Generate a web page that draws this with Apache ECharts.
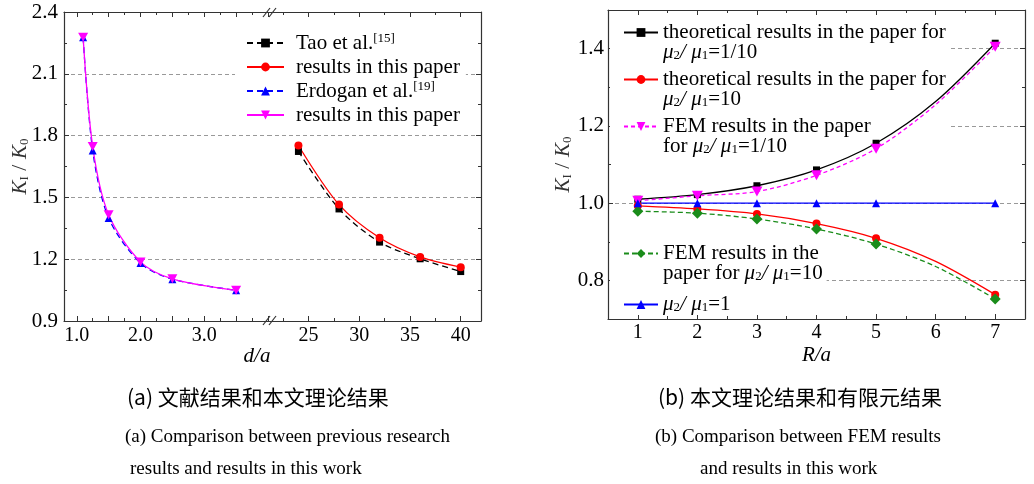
<!DOCTYPE html>
<html>
<head>
<meta charset="utf-8">
<script src="https://cdn.jsdelivr.net/npm/echarts@6/dist/echarts.min.js"></script>
<style>html,body{margin:0;padding:0;background:#fff}#main{width:1034px;height:484px}</style>
</head>
<body>
<div id="main"></div>
<script>
let myChart = echarts.init(document.getElementById('main'));

// (a) 左段 d/a
let dShort = [1.1, 1.25, 1.5, 2.0, 2.5, 3.5];
let erdogan = [2.277, 1.728, 1.400, 1.181, 1.103, 1.049];
let oursShort = [2.277, 1.747, 1.416, 1.187, 1.105, 1.049];
// (a) 右段 d/a
let dLong = [24, 28, 32, 36, 40];
let tao = [1.723, 1.444, 1.283, 1.202, 1.140];
let oursLong = [1.752, 1.465, 1.304, 1.211, 1.161];
// (b) R/a
let rA = [1, 2, 3, 4, 5, 6, 7];
let theory01 = [1.010, 1.022, 1.045, 1.086, 1.155, 1.263, 1.414];
let theory10 = [0.993, 0.985, 0.972, 0.947, 0.909, 0.849, 0.763];
let fem01 = [1.006, 1.019, 1.030, 1.072, 1.141, 1.255, 1.405];
let fem10 = [0.979, 0.974, 0.959, 0.933, 0.894, 0.836, 0.752];
let ratio1 = [1, 1, 1, 1, 1, 1, 1];
let noMarkAt = 6; // 1/10 两条曲线在 R/a=6 处无标记

let serif = '"Liberation Serif", "Times New Roman", serif';
let cjk = '"Noto Sans CJK SC", sans-serif';
let axisColor = '#333';
let downTri = 'path://M0,0L10,0L5,9Z';

let mu = '{i|μ}{s|2}{i|/ μ}{s|1}';
let legendText = {
    tao: 'Tao et al.{sup|[15]}',
    oursLong: 'results in this paper',
    erdogan: 'Erdogan et al.{sup|[19]}',
    oursShort: 'results in this paper',
    theory01: '\ntheoretical results in the paper for\n' + mu + '=1/10',
    theory10: '\ntheoretical results in the paper for\n' + mu + '=10',
    fem01: '\nFEM results in the paper\nfor ' + mu + '=1/10',
    fem10: '\nFEM results in the\npaper for ' + mu + '=10',
    ratio1: mu + '=1'
};

let rich = {
    i: {fontFamily: serif, fontSize: 21, fontStyle: 'italic', lineHeight: 20},
    s: {fontFamily: serif, fontSize: 13, lineHeight: 13, verticalAlign: 'bottom'},
    sup: {fontFamily: serif, fontSize: 13, lineHeight: 13, verticalAlign: 'top'},
    n: {fontFamily: serif, fontSize: 22}
};

function pairs(xs, ys) {
    return xs.map((x, i) => x === noMarkAt ? {value: [x, ys[i]], symbol: 'none'} : [x, ys[i]]);
}

function frame(gridIndex, position, min, max, extra) {
    return Object.assign({
        type: 'value', gridIndex: gridIndex, position: position, min: min, max: max,
        axisLine: {show: true, onZero: false, lineStyle: {color: axisColor, width: 1.2}},
        axisTick: {show: true, inside: true, length: 5, lineStyle: {color: axisColor}},
        minorTick: {show: true, splitNumber: 2, length: 3, lineStyle: {color: axisColor}},
        axisLabel: {show: false},
        splitLine: {show: false},
        nameMoveOverlap: false
    }, extra || {});
}

let labelStyle = {show: true, fontFamily: serif, fontSize: 20, color: '#000'};
let gridLine = {show: true, showMinLine: false, showMaxLine: false, lineStyle: {color: '#999', type: [4, 3], width: 1}};
let kName = '{i|K}{s|I}{n| / }{i|K}{s|0}';

let isInt = v => Math.abs(v - Math.round(v)) < 1e-6;

function line(name, xs, ys, xi, yi, color, symbol, size, dashed, extra) {
    return Object.assign({
        name: name, type: 'line', xAxisIndex: xi, yAxisIndex: yi,
        data: pairs(xs, ys), smooth: 0.3, symbol: symbol, symbolSize: size,
        itemStyle: {color: color},
        lineStyle: {color: color, width: 1.3, type: dashed ? [6, 4] : 'solid'},
        z: 2
    }, extra || {});
}

function caption(x, y, text, font, size) {
    return {type: 'text', x: x, y: y, style: {text: text, fontFamily: font, fontSize: size, fill: '#000', verticalAlign: 'middle'}};
}

let option = {
    animation: false,
    textStyle: {fontFamily: serif},
    grid: [
        {left: 64, top: 12, width: 204, height: 309, outerBoundsMode: 'none'},
        {left: 268, top: 12, width: 213, height: 309, outerBoundsMode: 'none'},
        {left: 608, top: 10, width: 417, height: 309, outerBoundsMode: 'none'}
    ],
    xAxis: [
        frame(0, 'bottom', 0.8, 4.0, {axisLabel: Object.assign({}, labelStyle, {margin: 5,
            formatter: v => (isInt(v) && v > 0.9 && v < 3.9) ? v.toFixed(1) : ''})}),
        frame(1, 'bottom', 21, 42, {axisLabel: Object.assign({}, labelStyle, {margin: 5,
            formatter: v => (v % 5 === 0 && v < 41) ? String(v) : ''})}),
        frame(0, 'top', 0.8, 4.0, {z: 3}),
        frame(1, 'top', 21, 42, {z: 3}),
        frame(2, 'bottom', 0.5, 7.5, {
            axisLabel: Object.assign({}, labelStyle, {margin: 4, formatter: v => isInt(v) ? String(v) : ''}),
            name: 'R/a', nameLocation: 'middle', nameGap: 26,
            nameTextStyle: {fontFamily: serif, fontSize: 21, fontStyle: 'italic', color: '#000'}
        }),
        frame(2, 'top', 0.5, 7.5, {z: 3})
    ],
    yAxis: [
        frame(0, 'left', 0.9, 2.4, {interval: 0.3,
            axisLabel: Object.assign({}, labelStyle, {fontSize: 21, margin: 6, formatter: v => v.toFixed(1)}),
            splitLine: gridLine,
            name: kName, nameLocation: 'middle', nameRotate: 90, nameGap: 33,
            nameTextStyle: {rich: rich}
        }),
        frame(1, 'right', 0.9, 2.4, {interval: 0.3, splitLine: gridLine}),
        frame(2, 'left', 0.7, 1.5, {
            axisLabel: Object.assign({}, labelStyle, {fontSize: 21, margin: 4,
                formatter: v => (Math.round(v * 10) % 2 === 0 && v > 0.75 && v < 1.45) ? v.toFixed(1) : ''}),
            splitLine: gridLine,
            name: kName, nameLocation: 'middle', nameRotate: 90, nameGap: 34,
            nameTextStyle: {rich: rich}
        }),
        frame(2, 'right', 0.7, 1.5, {})
    ],
    legend: [
        {
            orient: 'vertical', left: 235, top: 30, z: 1,
            padding: [2, 6, 2, 11], itemGap: 2, itemWidth: 37, itemHeight: 11,
            backgroundColor: '#fff',
            data: ['tao', 'oursLong', 'erdogan', 'oursShort'],
            formatter: n => legendText[n],
            textStyle: {fontFamily: serif, fontSize: 21, color: '#000', lineHeight: 22, padding: [0, 0, 0, 7], rich: rich}
        },
        {
            orient: 'vertical', left: 610, top: 2, z: 1,
            padding: [0, 4, 0, 13], itemGap: -14, itemWidth: 34, itemHeight: 11,
            backgroundColor: '#fff',
            data: ['theory01', 'theory10', 'fem01'],
            formatter: n => legendText[n],
            textStyle: {fontFamily: serif, fontSize: 21, color: '#000', lineHeight: 20, rich: rich}
        },
        {
            orient: 'vertical', left: 610, top: 223, z: 1,
            padding: [0, 4, 0, 13], itemGap: 10, itemWidth: 34, itemHeight: 11,
            backgroundColor: '#fff',
            data: ['fem10', 'ratio1'],
            formatter: n => legendText[n],
            textStyle: {fontFamily: serif, fontSize: 21, color: '#000', lineHeight: 20, rich: rich}
        }
    ],
    graphic: [
        // 断轴符号
        {type: 'line', shape: {x1: 263, y1: 17, x2: 270, y2: 8}, style: {stroke: axisColor, lineWidth: 1.2}, z: 10},
        {type: 'line', shape: {x1: 269, y1: 17, x2: 276, y2: 8}, style: {stroke: axisColor, lineWidth: 1.2}, z: 10},
        {type: 'line', shape: {x1: 263, y1: 325, x2: 270, y2: 316}, style: {stroke: axisColor, lineWidth: 1.2}, z: 10},
        {type: 'line', shape: {x1: 269, y1: 325, x2: 276, y2: 316}, style: {stroke: axisColor, lineWidth: 1.2}, z: 10},
        {type: 'text', x: 257, y: 356, style: {text: 'd/a', fontFamily: serif, fontSize: 21, fontStyle: 'italic', fill: '#000', align: 'center', verticalAlign: 'middle'}},
        caption(127, 397, '(a) 文献结果和本文理论结果', cjk, 21),
        caption(125, 437, '(a) Comparison between previous research', serif, 19),
        caption(130, 469, 'results and results in this work', serif, 19),
        caption(658, 397, '(b) 本文理论结果和有限元结果', cjk, 21),
        caption(655, 437, '(b) Comparison between FEM results', serif, 19),
        caption(700, 469, 'and results in this work', serif, 19)
    ],
    series: [
        line('tao', dLong, tao, 1, 1, '#000', 'rect', 7, true),
        line('oursLong', dLong, oursLong, 1, 1, '#ff0000', 'circle', 8, false),
        line('erdogan', dShort, erdogan, 0, 0, '#0000ff', 'triangle', 8, true),
        line('oursShort', dShort, oursShort, 0, 0, '#ff00ff', downTri, [10, 9], false),
        line('theory01', rA, theory01, 4, 2, '#000', 'rect', 7, false),
        line('theory10', rA, theory10, 4, 2, '#ff0000', 'circle', 8, false),
        line('fem01', rA, fem01, 4, 2, '#ff00ff', downTri, [11, 10], true, {lineStyle: {color: '#ff00ff', width: 1.3, type: [4, 3]}}),
        line('fem10', rA, fem10, 4, 2, '#1a8c1a', 'diamond', 11, true, {lineStyle: {color: '#1a8c1a', width: 1.3, type: [5, 3]}}),
        line('ratio1', rA, ratio1, 4, 2, '#0000ff', 'triangle', 8, false, {smooth: false})
    ]
};

myChart.setOption(option);
</script>
</body>
</html>
